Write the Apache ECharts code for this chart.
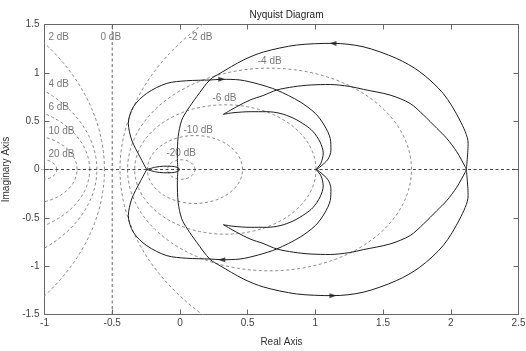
<!DOCTYPE html>
<html>
<head>
<meta charset="utf-8">
<script src="https://cdn.jsdelivr.net/npm/echarts@6/dist/echarts.min.js"></script>
<style>
  html, body { margin: 0; padding: 0; background: #fff; }
  #chart { width: 526px; height: 351px; }
</style>
</head>
<body>
<div id="chart"></div>
<script>
const FONT = "'Liberation Sans', Arial, Helvetica, sans-serif";

// Axis ticks
const xTickValues = [-1, -0.5, 0, 0.5, 1, 1.5, 2, 2.5];
const yTickValues = [-1.5, -1, -0.5, 0, 0.5, 1, 1.5];

// Closed-loop magnitude contours (M-circles), in dB
const gridDb = [-20, -10, -6, -4, -2, 0, 2, 4, 6, 10, 20];
const gridLabelText = ['2 dB', '0 dB', '-2 dB', '-4 dB', '4 dB', '6 dB', '-6 dB', '10 dB', '-10 dB', '20 dB', '-20 dB'];
const gridLabelAt = [[-0.975, 1.37], [-0.59, 1.37], [0.06, 1.37], [0.571, 1.12], [-0.975, 0.884],
  [-0.975, 0.64], [0.237, 0.74], [-0.975, 0.40], [0.023, 0.41], [-0.975, 0.16], [-0.103, 0.17]];

// Positive-frequency branches (upper half-plane); the negative-frequency
// branches are drawn as their complex conjugates.
const loopA = [[-0.015, 0], [-0.019, 0.13], [-0.013, 0.34], [0.013, 0.51], [0.055, 0.615], [0.124, 0.753],
  [0.222, 0.929], [0.296, 0.995], [0.468, 1.132], [0.616, 1.215], [0.86, 1.287], [1.13, 1.305],
  [1.352, 1.27], [1.598, 1.15], [1.771, 1.011], [1.943, 0.788], [2.066, 0.512], [2.128, 0.271], [2.115, 0]];
const loopBEllipse = [[0.0, 0], [-0.02, 0.022], [-0.06, 0.033], [-0.12, 0.034], [-0.18, 0.024], [-0.245, 0]];
const loopB = [[-0.245, 0], [-0.295, 0.13], [-0.356, 0.305], [-0.381, 0.478], [-0.344, 0.649], [-0.245, 0.788],
  [-0.097, 0.891], [0.05, 0.918], [0.222, 0.926], [0.309, 0.933], [0.444, 0.926], [0.579, 0.884],
  [0.715, 0.822], [0.887, 0.70], [1.0, 0.58], [1.065, 0.46], [1.11, 0.32], [1.115, 0.2], [1.09, 0.1], [1.01, 0]];
const loopCInner = [[1.005, 0], [1.042, 0.067], [1.058, 0.171], [1.035, 0.284], [0.983, 0.393], [0.924, 0.46],
  [0.835, 0.533], [0.739, 0.581], [0.643, 0.598], [0.518, 0.598], [0.392, 0.587], [0.321, 0.571]];
const loopCOuter = [[0.321, 0.571], [0.42, 0.65], [0.518, 0.719], [0.614, 0.765], [0.715, 0.822], [0.84, 0.856],
  [0.961, 0.874], [1.11, 0.879], [1.25, 0.86], [1.355, 0.829], [1.552, 0.77], [1.699, 0.684], [1.798, 0.564],
  [1.897, 0.426], [1.97, 0.322], [2.044, 0.184], [2.106, 0.029], [2.115, 0]];

// Direction arrows: which branch, which point, mirrored branch or not, travel reversed or not
const arrowSpecs = [
  { branch: loopA, index: 11, mirror: false, reverse: true },
  { branch: loopA, index: 11, mirror: true, reverse: false },
  { branch: loopB, index: 9, mirror: false, reverse: false },
  { branch: loopB, index: 9, mirror: true, reverse: true }
];

const criticalPoint = [-1, 0];

const conj = pts => pts.map(([x, y]) => [x, -y]);

const xMin = xTickValues[0], xMax = xTickValues[xTickValues.length - 1];
const yMin = yTickValues[0], yMax = yTickValues[yTickValues.length - 1];
const xStep = xTickValues[1] - xTickValues[0];
const yStep = yTickValues[1] - yTickValues[0];

function mCircle(db) {
  const M = Math.pow(10, db / 20);
  const M2 = M * M;
  const c = -M2 / (M2 - 1);
  const r = Math.abs(M / (M2 - 1));
  const pts = [];
  for (let i = 0; i <= 720; i++) {
    const t = (i / 720) * 2 * Math.PI;
    pts.push([c + r * Math.cos(t), r * Math.sin(t)]);
  }
  return pts;
}

const CURVE = '#1e1e1e';
const GRIDDASH = '#8a8a8a';
const AXISDASH = '#4a4a4a';

const series = [];
gridDb.forEach(db => {
  const data = db === 0 ? [[-0.5, yMin], [-0.5, yMax]] : mCircle(db);
  series.push({
    type: 'line', data, symbol: 'none', silent: true, clip: true, z: 1,
    lineStyle: { color: db === 0 ? '#666' : GRIDDASH, width: 1, type: [3, 2.5] }
  });
});
series.push({
  type: 'line', data: [[xMin, 0], [xMax, 0]], symbol: 'none', silent: true, clip: true, z: 1,
  lineStyle: { color: AXISDASH, width: 1, type: [3, 2.5] }
});

function curve(data) {
  series.push({
    type: 'line', data, symbol: 'none', smooth: 0.3, clip: true, silent: true, z: 3,
    lineStyle: { color: CURVE, width: 1 }
  });
}
[loopA, loopBEllipse, loopB, loopCInner, loopCOuter].forEach(b => { curve(b); curve(conj(b)); });

series.push({
  type: 'scatter', silent: true, z: 4, symbolSize: 1, itemStyle: { color: 'rgba(0,0,0,0)' },
  data: gridLabelText.map((t, i) => ({ name: t, value: gridLabelAt[i] })),
  label: { show: true, position: 'right', distance: 0, formatter: '{b}', color: '#555', fontSize: 10, fontFamily: FONT }
});

series.push({
  type: 'scatter', silent: true, z: 4, symbol: 'path://M0,4.5H10V5.5H0Z M4.5,0H5.5V10H4.5Z', symbolSize: 7,
  itemStyle: { color: '#555' }, data: [criticalPoint]
});

const axisCommon = {
  type: 'value', splitLine: { show: false },
  axisLine: { show: true, onZero: false, lineStyle: { color: '#666', width: 1 } },
  axisTick: { show: true, inside: true, length: 5, lineStyle: { color: '#666' } }
};

const chart = echarts.init(document.getElementById('chart'), null, { renderer: 'canvas' });
const option = {
  animation: false,
  backgroundColor: '#fff',
  title: {
    text: 'Nyquist Diagram', left: 281.5, top: 5, textAlign: 'center',
    textStyle: { fontSize: 10, fontWeight: 'normal', color: '#222', fontFamily: FONT }
  },
  grid: { left: 44.5, right: 7.5, top: 24.5, bottom: 36.5, containLabel: false, outerBoundsMode: 'none' },
  xAxis: [
    Object.assign({}, axisCommon, {
      min: xMin, max: xMax, interval: xStep, position: 'bottom',
      axisLabel: { color: '#444', fontSize: 10, margin: 4, fontFamily: FONT },
      name: 'Real Axis', nameLocation: 'middle', nameGap: 23,
      nameTextStyle: { color: '#333', fontSize: 10, fontFamily: FONT }
    }),
    Object.assign({}, axisCommon, { min: xMin, max: xMax, interval: xStep, position: 'top', axisLabel: { show: false } })
  ],
  yAxis: [
    Object.assign({}, axisCommon, {
      min: yMin, max: yMax, interval: yStep, position: 'left',
      axisLabel: { color: '#444', fontSize: 10, margin: 5, fontFamily: FONT },
      name: 'Imaginary Axis', nameLocation: 'middle', nameGap: 27,
      nameTextStyle: { color: '#333', fontSize: 10, fontFamily: FONT }
    }),
    Object.assign({}, axisCommon, { min: yMin, max: yMax, interval: yStep, position: 'right', axisLabel: { show: false } })
  ],
  series
};
chart.setOption(option);

// Arrowheads oriented along the local direction of travel in screen space
const arrowData = arrowSpecs.map(s => {
  const pts = s.mirror ? conj(s.branch) : s.branch;
  const p0 = chart.convertToPixel({ gridIndex: 0 }, pts[s.index - 1]);
  const p1 = chart.convertToPixel({ gridIndex: 0 }, pts[s.index + 1]);
  let dx = p1[0] - p0[0], dy = p1[1] - p0[1];
  if (s.reverse) { dx = -dx; dy = -dy; }
  const theta = Math.atan2(-dy, dx) * 180 / Math.PI;
  return { value: pts[s.index], symbolRotate: theta - 90 };
});
series.push({
  type: 'scatter', silent: true, z: 5, symbol: 'triangle', symbolSize: [5, 7],
  itemStyle: { color: CURVE }, data: arrowData
});
chart.setOption({ series });
</script>
</body>
</html>
